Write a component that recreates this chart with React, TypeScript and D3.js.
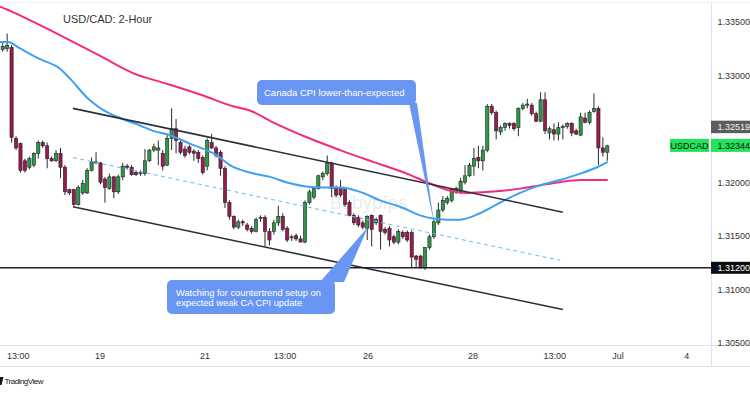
import React from 'react';
import * as d3 from 'd3';

// ---- Data (2-hour USD/CAD candles) ----
const opens = [1.3324,1.3325,1.3326,1.3241,1.3236,1.3220,1.3214,1.3216,1.3227,1.3237,1.3234,1.3222,1.3220,1.3227,1.3214,1.3193,1.3193,1.3179,1.3190,1.3190,1.3211,1.3219,1.3218,1.3203,1.3194,1.3205,1.3191,1.3205,1.3215,1.3214,1.3209,1.3208,1.3208,1.3220,1.3230,1.3230,1.3227,1.3216,1.3241,1.3250,1.3237,1.3231,1.3233,1.3229,1.3228,1.3223,1.3215,1.3237,1.3232,1.3228,1.3213,1.3181,1.3168,1.3158,1.3163,1.3160,1.3157,1.3154,1.3166,1.3167,1.3154,1.3154,1.3162,1.3168,1.3157,1.3148,1.3150,1.3147,1.3144,1.3181,1.3186,1.3194,1.3205,1.3208,1.3218,1.3194,1.3195,1.3193,1.3181,1.3169,1.3167,1.3162,1.3157,1.3169,1.3162,1.3169,1.3156,1.3157,1.3149,1.3144,1.3153,1.3153,1.3153,1.3131,1.3131,1.3120,1.3139,1.3149,1.3162,1.3174,1.3181,1.3183,1.3191,1.3191,1.3200,1.3206,1.3215,1.3223,1.3220,1.3230,1.3271,1.3265,1.3247,1.3251,1.3255,1.3255,1.3251,1.3269,1.3272,1.3272,1.3264,1.3257,1.3277,1.3246,1.3249,1.3245,1.3251,1.3252,1.3255,1.3248,1.3244,1.3260,1.3256,1.3266,1.3269,1.3232,1.3228];
const highs = [1.3331,1.3339,1.3328,1.3243,1.3237,1.3222,1.3224,1.3228,1.3239,1.3239,1.3237,1.3224,1.3230,1.3232,1.3216,1.3194,1.3194,1.3197,1.3202,1.3213,1.3223,1.3228,1.3219,1.3205,1.3208,1.3206,1.3207,1.3218,1.3217,1.3216,1.3211,1.3211,1.3231,1.3231,1.3236,1.3239,1.3230,1.3245,1.3269,1.3259,1.3239,1.3234,1.3235,1.3231,1.3230,1.3225,1.3241,1.3245,1.3234,1.3230,1.3215,1.3183,1.3169,1.3165,1.3165,1.3162,1.3159,1.3167,1.3169,1.3169,1.3157,1.3165,1.3178,1.3171,1.3159,1.3151,1.3152,1.3150,1.3183,1.3193,1.3196,1.3207,1.3210,1.3225,1.3219,1.3197,1.3202,1.3194,1.3183,1.3171,1.3169,1.3164,1.3169,1.3170,1.3167,1.3170,1.3158,1.3159,1.3151,1.3156,1.3155,1.3155,1.3155,1.3132,1.3132,1.3139,1.3151,1.3165,1.3181,1.3187,1.3187,1.3194,1.3196,1.3204,1.3216,1.3218,1.3232,1.3234,1.3234,1.3273,1.3273,1.3267,1.3253,1.3256,1.3256,1.3256,1.3270,1.3274,1.3278,1.3274,1.3266,1.3284,1.3284,1.3252,1.3255,1.3256,1.3254,1.3256,1.3256,1.3250,1.3265,1.3265,1.3267,1.3283,1.3271,1.3242,1.3235];
const lows = [1.3322,1.3322,1.3237,1.3230,1.3209,1.3209,1.3212,1.3214,1.3222,1.3232,1.3213,1.3219,1.3219,1.3204,1.3188,1.3188,1.3178,1.3178,1.3188,1.3189,1.3210,1.3217,1.3198,1.3181,1.3193,1.3185,1.3189,1.3202,1.3212,1.3206,1.3206,1.3206,1.3206,1.3219,1.3228,1.3216,1.3211,1.3215,1.3230,1.3227,1.3226,1.3223,1.3226,1.3220,1.3218,1.3207,1.3211,1.3231,1.3223,1.3206,1.3176,1.3165,1.3156,1.3156,1.3159,1.3154,1.3152,1.3153,1.3163,1.3140,1.3141,1.3151,1.3159,1.3154,1.3144,1.3145,1.3145,1.3144,1.3143,1.3179,1.3184,1.3193,1.3202,1.3206,1.3186,1.3186,1.3186,1.3177,1.3168,1.3160,1.3158,1.3156,1.3146,1.3140,1.3160,1.3137,1.3151,1.3140,1.3142,1.3142,1.3147,1.3144,1.3120,1.3120,1.3119,1.3118,1.3137,1.3147,1.3160,1.3172,1.3179,1.3181,1.3189,1.3189,1.3198,1.3205,1.3206,1.3213,1.3211,1.3228,1.3263,1.3240,1.3244,1.3248,1.3250,1.3248,1.3243,1.3267,1.3269,1.3262,1.3256,1.3256,1.3245,1.3240,1.3239,1.3239,1.3240,1.3250,1.3243,1.3244,1.3243,1.3255,1.3254,1.3265,1.3216,1.3224,1.3220];
const closes = [1.3327,1.3328,1.3242,1.3232,1.3211,1.3211,1.3222,1.3227,1.3237,1.3234,1.3222,1.3220,1.3227,1.3214,1.3191,1.3190,1.3179,1.3195,1.3199,1.3211,1.3219,1.3218,1.3200,1.3195,1.3205,1.3191,1.3205,1.3215,1.3214,1.3207,1.3207,1.3209,1.3220,1.3230,1.3233,1.3232,1.3215,1.3241,1.3250,1.3239,1.3228,1.3225,1.3228,1.3227,1.3222,1.3209,1.3239,1.3232,1.3225,1.3213,1.3181,1.3168,1.3158,1.3163,1.3162,1.3156,1.3154,1.3165,1.3167,1.3154,1.3146,1.3162,1.3168,1.3156,1.3146,1.3149,1.3147,1.3144,1.3181,1.3191,1.3194,1.3206,1.3208,1.3218,1.3194,1.3188,1.3188,1.3179,1.3169,1.3162,1.3160,1.3158,1.3168,1.3156,1.3165,1.3154,1.3153,1.3146,1.3144,1.3154,1.3149,1.3146,1.3130,1.3128,1.3120,1.3139,1.3149,1.3163,1.3174,1.3183,1.3185,1.3193,1.3194,1.3201,1.3206,1.3216,1.3222,1.3220,1.3230,1.3271,1.3265,1.3248,1.3251,1.3255,1.3253,1.3250,1.3269,1.3272,1.3273,1.3264,1.3257,1.3277,1.3248,1.3250,1.3245,1.3251,1.3252,1.3255,1.3246,1.3245,1.3261,1.3256,1.3265,1.3269,1.3232,1.3228,1.3234];

// moving averages sampled along the bars [bar index, price]
const blueIdx = [-0.6,1.2,3.9,8.4,12.9,15.1,19,24.1,27,30.9,33.8,37.6,42.1,48.2,51.1,55.6,60.1,64.6,71.4,75.9,80.4,84.9,89.4,93.9,96.8,99.9,102.9,107.4,111.9,116.4,120.8,125.3,129.9,133.7,136.1];
const blueVal = [1.3331,1.3331,1.3325,1.3315,1.3306,1.3297,1.3279,1.3264,1.3259,1.3253,1.3248,1.3244,1.3236,1.3225,1.3216,1.3209,1.3205,1.3199,1.3195,1.3195,1.3191,1.3183,1.3177,1.3169,1.3166,1.3165,1.3165,1.3171,1.3181,1.3190,1.3197,1.3202,1.3208,1.3214,1.3219];
const pinkIdx = [-0.6,2.3,6.8,14.5,21.9,29.3,36.9,44.4,51.8,55.6,60.8,68.4,75.9,83.3,90.9,95.4,99.9,104.4,109.6,116.4,120.8,125.3,129.9,136.1];
const pinkVal = [1.3364,1.3359,1.3350,1.3334,1.3318,1.3302,1.3292,1.3282,1.3271,1.3267,1.3256,1.3242,1.3230,1.3219,1.3208,1.3200,1.3193,1.3190,1.3191,1.3194,1.3197,1.3200,1.3202,1.3202];

// drawn channel: [startIdx, startPrice, endIdx, endPrice]
const channelUpper = [15.8, 1.3269, 126.0, 1.3172];
const channelLower = [15.8, 1.3177, 126.0, 1.3081];
const channelMid = [15.8, 1.3223, 125.4, 1.3127];
const supportLevel = 1.3120;

const priceTicks = [1.335, 1.33, 1.32, 1.315, 1.31, 1.305];
const timeTickIdx = [3.5, 21.9, 45.5, 63.5, 82.2, 105.8, 124.2, 138.4, 153.9];
const timeTickLabels = ['13:00', '19', '21', '13:00', '26', '28', '13:00', 'Jul', '4'];

const lastPrice = 1.32344;
const prevLabel = 1.32519;

const FONT = '"Liberation Sans", Arial, sans-serif';

export default function App() {
  const x = d3.scaleLinear().domain([0, 136]).range([2.7, 607.3]);
  const y = d3.scaleLinear().domain([1.305, 1.335]).range([342.7, 21.7]);
  const line = d3.line<[number, number]>().x(d => x(d[0])).y(d => y(d[1])).curve(d3.curveMonotoneX);
  const blue = blueIdx.map((v, i) => [v, blueVal[i]] as [number, number]);
  const pink = pinkIdx.map((v, i) => [v, pinkVal[i]] as [number, number]);
  const fmt = d3.format('.5f');
  const seg = (s: number[]) => ({ x1: x(s[0]), y1: y(s[1]), x2: x(s[2]), y2: y(s[3]) });
  const up = seg(channelUpper), lo = seg(channelLower), mid = seg(channelMid);
  const bw = 3.2;
  const callBlue = '#6a96f3';

  return (
    <svg width={750} height={394} style={{ position: 'absolute', left: 0, top: 0 }} xmlns="http://www.w3.org/2000/svg">
      <rect width={750} height={394} fill="#fff" />
      <defs>
        <clipPath id="plot"><rect x={0} y={3} width={711} height={342} /></clipPath>
      </defs>
      <line x1={0} x2={750} y1={2.5} y2={2.5} stroke="#eef0f4" />
      <g clipPath="url(#plot)">
        <text x={330} y={209} fontFamily="'Open Sans', sans-serif" fontSize={18} fill="#ebebeb">Babypips</text>
        {opens.map((o, i) => {
          const c = closes[i];
          const isUp = c >= o;
          const top = y(Math.max(o, c));
          const h = Math.max(1, Math.abs(y(o) - y(c)));
          return (
            <g key={i}>
              <line x1={x(i)} x2={x(i)} y1={y(highs[i])} y2={y(lows[i])} stroke="#2a2a2a" strokeWidth={1} />
              <rect x={x(i) - bw / 2} y={top} width={bw} height={h} fill={isUp ? '#2a9a48' : '#9a1a4e'} stroke="#222" strokeWidth={0.6} />
            </g>
          );
        })}
        <path d={line(pink) || ''} fill="none" stroke="#f52a7f" strokeWidth={2} />
        <path d={line(blue) || ''} fill="none" stroke="#40a0f2" strokeWidth={2} />
        <line {...mid} stroke="#6cb6f5" strokeWidth={1} strokeDasharray="4 3.5" />
        <line {...up} stroke="#2a2e39" strokeWidth={1.6} />
        <line {...lo} stroke="#2a2e39" strokeWidth={1.6} />
        <line x1={0} x2={711} y1={y(supportLevel)} y2={y(supportLevel)} stroke="#1e222d" strokeWidth={1.6} />

        {/* callout 1 */}
        <path d="M409,103 L417,103 L434,223 Z" fill={callBlue} />
        <rect x={257} y={80} width={159} height={25} rx={5} fill={callBlue} />
        <text x={264} y={95.5} fontFamily={FONT} fontSize={9.5} fill="#fff">Canada CPI lower-than-expected</text>

        {/* callout 2 */}
        <path d="M320,282 L344,282 L368,227 Z" fill={callBlue} />
        <rect x={167} y={280} width={168} height={34} rx={5} fill={callBlue} />
        <text x={176} y={296} fontFamily={FONT} fontSize={9.3} fill="#fff">Watching for countertrend setup on</text>
        <text x={176} y={305.5} fontFamily={FONT} fontSize={9.3} fill="#fff">expected weak CA CPI update</text>
      </g>

      <text x={63} y={22.5} fontFamily={FONT} fontSize={11} fill="#333">USD/CAD: 2-Hour</text>

      {/* axes frame */}
      <line x1={711.5} x2={711.5} y1={3} y2={367} stroke="#e0e3eb" />
      <line x1={0} x2={750} y1={345.5} y2={345.5} stroke="#e0e3eb" />
      <line x1={0} x2={750} y1={366.5} y2={366.5} stroke="#e0e3eb" />

      {priceTicks.map(p => (
        <text key={p} x={717.5} y={y(p) + 3.3} fontFamily={FONT} fontSize={9} fill="#333">{fmt(p)}</text>
      ))}
      {timeTickIdx.map((t, i) => (
        <text key={i} x={x(t)} y={359} textAnchor="middle" fontFamily={FONT} fontSize={9} fill="#333">{timeTickLabels[i]}</text>
      ))}

      {/* price labels */}
      <rect x={711} y={y(prevLabel) - 6} width={39} height={12.5} fill="#5d5d5d" />
      <text x={717.5} y={y(prevLabel) + 3.3} fontFamily={FONT} fontSize={9} fill="#f2f2f2">{fmt(prevLabel)}</text>
      <rect x={670} y={y(lastPrice) - 6.5} width={39} height={13} fill="#24e35b" />
      <text x={689.5} y={y(lastPrice) + 3.3} textAnchor="middle" fontFamily={FONT} fontSize={9} fill="#111">USDCAD</text>
      <rect x={711} y={y(lastPrice) - 6.5} width={39} height={13} fill="#24e35b" />
      <text x={717.5} y={y(lastPrice) + 3.3} fontFamily={FONT} fontSize={9} fill="#111">{fmt(lastPrice)}</text>
      <rect x={711} y={y(supportLevel) - 6} width={39} height={12} fill="#0c0e14" />
      <text x={717.5} y={y(supportLevel) + 3.3} fontFamily={FONT} fontSize={9} fill="#fff">{fmt(supportLevel)}</text>

      {/* logo */}
      <path d="M0,377 L3.5,377 L1.5,385 L0,385 Z" fill="#131722" />
      <text x={4.5} y={384} fontFamily={FONT} fontSize={8} fill="#131722" textLength={39}>TradingView</text>
    </svg>
  );
}
